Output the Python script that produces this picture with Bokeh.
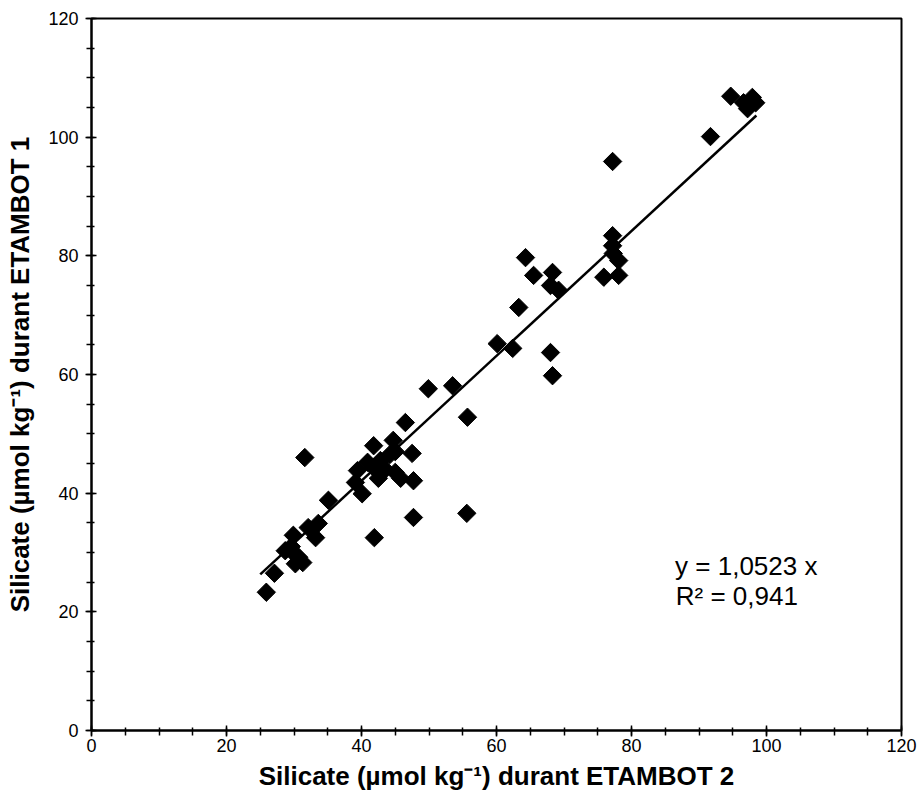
import numpy as np
from bokeh.plotting import figure
from bokeh.models import Range1d, SingleIntervalTicker, ColumnDataSource
from bokeh.core.properties import value
from bokeh.embed import file_html
from bokeh.resources import INLINE

# Silicate during ETAMBOT 2 (x) vs ETAMBOT 1 (y), µmol/kg
etambot2 = [25.9, 27.1, 28.7, 29.9, 30.2, 30.7, 31.3, 30.2, 29.6, 32.1, 33.2, 33.6, 35.1, 31.6,
            39.1, 39.4, 40.1, 40.9, 41.8, 41.8, 42.5, 42.8, 43.5, 44.2, 44.7, 45.0, 45.0, 45.8,
            46.5, 47.5, 47.7, 47.7, 41.9,
            49.9, 53.5, 55.7, 55.6, 60.1, 62.4, 68.0, 68.3, 63.3, 64.3, 65.5, 68.3, 68.0, 69.2,
            75.9, 77.2, 77.2, 77.3, 78.1, 78.1, 77.2,
            91.7, 94.7, 96.6, 97.2, 98.4, 97.9]
etambot1 = [23.3, 26.5, 30.3, 32.9, 29.6, 29.2, 28.3, 28.1, 31.0, 34.2, 32.5, 34.9, 38.8, 46.0,
            41.8, 43.8, 39.9, 45.2, 48.0, 44.3, 42.5, 45.5, 44.0, 46.5, 48.9, 47.0, 43.5, 42.5,
            51.9, 46.7, 42.1, 35.9, 32.5,
            57.6, 58.1, 52.8, 36.6, 65.2, 64.4, 63.7, 59.8, 71.3, 79.7, 76.7, 77.2, 75.0, 74.2,
            76.4, 83.4, 81.7, 80.4, 79.2, 76.7, 95.9,
            100.1, 106.9, 105.8, 104.8, 105.8, 106.7]

fit_slope = 1.0523
fit_x = [25.0, 98.5]
fit_y = [fit_slope * v for v in fit_x]

ann_x = [97.0, 95.6]
ann_y = [27.8, 22.6]
ann_text = ["y = 1,0523 x", "R\u00b2 = 0,941"]

FONT = "Liberation Sans"

p = figure(width=920, height=807, output_backend="svg", toolbar_location=None,
           x_range=Range1d(0, 120), y_range=Range1d(0, 120),
           min_border_left=91, min_border_right=19, min_border_top=18, min_border_bottom=77)
p.background_fill_color = "white"
p.border_fill_color = "white"
p.outline_line_color = "black"
p.outline_line_width = 2
p.xgrid.visible = False
p.ygrid.visible = False

for ax in (p.xaxis[0], p.yaxis[0]):
    ax.ticker = SingleIntervalTicker(interval=20, num_minor_ticks=4)
    ax.axis_line_width = 2
    ax.axis_line_color = "black"
    ax.major_tick_line_color = "black"
    ax.major_tick_line_width = 1.5
    ax.minor_tick_line_color = "black"
    ax.minor_tick_line_width = 1.5
    ax.major_tick_in = 5
    ax.major_tick_out = 6
    ax.minor_tick_in = 3
    ax.minor_tick_out = 5
    ax.major_label_text_font = FONT
    ax.major_label_text_font_size = "18px"
    ax.major_label_text_color = "black"
    ax.axis_label_text_font = FONT
    ax.axis_label_text_font_size = "26px"
    ax.axis_label_text_font_style = "bold"
    ax.axis_label_text_color = "black"

p.xaxis.axis_label = "Silicate (\u00b5mol kg\u207b\u00b9) durant ETAMBOT 2"
p.yaxis.axis_label = "Silicate (\u00b5mol kg\u207b\u00b9) durant ETAMBOT 1"
p.xaxis.major_label_standoff = 2
p.yaxis.major_label_standoff = 7
p.xaxis.axis_label_standoff = 6
p.yaxis.axis_label_standoff = 10

src = ColumnDataSource(dict(x=etambot2, y=etambot1))
p.scatter("x", "y", source=src, marker="square", size=13, angle=np.pi / 4,
          fill_color="black", line_color="black")

p.line(fit_x, fit_y, line_color="black", line_width=2.5)

asrc = ColumnDataSource(dict(x=ann_x, y=ann_y, t=ann_text))
p.text("x", "y", text="t", source=asrc, text_font=value(FONT), text_font_size="26px",
       text_align="center", text_baseline="middle", text_color="black")

open("out.html", "w").write(file_html(p, INLINE))
